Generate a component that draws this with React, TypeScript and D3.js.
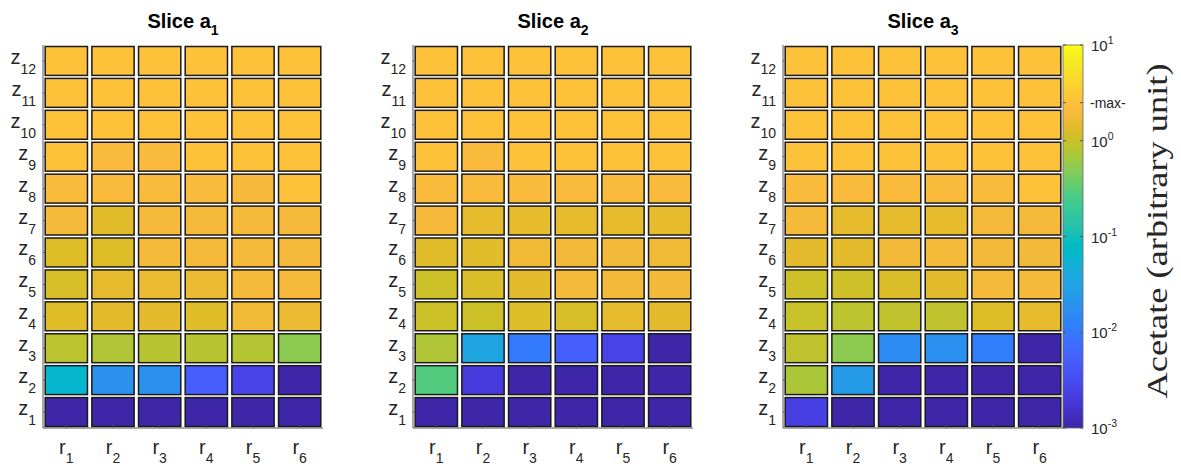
import React from "react";
import * as d3 from "d3";

// ---------- data ----------
const columns = ["1", "2", "3", "4", "5", "6"]; // r subscripts
const rowsLabels = ["1", "2", "3", "4", "5", "6", "7", "8", "9", "10", "11", "12"]; // z subscripts (bottom -> top)
const sliceTitles = ["1", "2", "3"];

// values per slice, rows z1..z12, columns r1..r6 (arbitrary units)
const slice1 = [
  [0.001, 0.001, 0.001, 0.001, 0.001, 0.001],
  [0.063, 0.019, 0.019, 0.005, 0.0025, 0.001],
  [0.87, 0.76, 0.83, 0.83, 0.79, 0.52],
  [1.32, 1.45, 1.45, 1.32, 1.78, 1.66],
  [1.2, 1.51, 1.58, 1.66, 1.9, 1.9],
  [1.32, 1.32, 1.9, 1.9, 1.9, 1.9],
  [1.9, 1.41, 1.9, 1.9, 1.9, 1.9],
  [2.1, 2.1, 2.1, 2.1, 2.0, 2.5],
  [2.5, 2.1, 2.1, 2.5, 2.5, 2.5],
  [2.5, 2.5, 2.5, 2.5, 2.5, 2.5],
  [2.5, 2.5, 2.5, 2.5, 2.5, 2.5],
  [2.5, 2.5, 2.5, 2.5, 2.5, 2.5],
];
const slice2 = [
  [0.001, 0.001, 0.001, 0.001, 0.001, 0.001],
  [0.28, 0.002, 0.001, 0.001, 0.001, 0.001],
  [0.76, 0.035, 0.01, 0.005, 0.0025, 0.001],
  [1.05, 1.05, 1.32, 1.2, 1.51, 1.45],
  [1.05, 1.26, 1.45, 1.86, 1.8, 1.8],
  [1.38, 1.38, 1.74, 1.8, 1.8, 1.74],
  [2.0, 1.51, 1.51, 1.51, 1.51, 1.51],
  [2.1, 2.1, 2.1, 2.1, 2.1, 2.1],
  [2.5, 2.1, 2.5, 2.5, 2.5, 2.5],
  [2.5, 2.5, 2.5, 2.5, 2.5, 2.5],
  [2.5, 2.5, 2.5, 2.5, 2.5, 2.5],
  [2.5, 2.5, 2.5, 2.5, 2.5, 2.5],
];
const slice3 = [
  [0.0024, 0.001, 0.001, 0.001, 0.001, 0.001],
  [0.72, 0.025, 0.001, 0.001, 0.001, 0.001],
  [0.91, 0.52, 0.016, 0.018, 0.011, 0.001],
  [0.98, 0.87, 0.91, 0.91, 1.32, 1.51],
  [1.07, 1.07, 1.26, 1.45, 1.9, 1.9],
  [1.45, 1.45, 1.8, 1.9, 1.8, 1.8],
  [1.9, 1.51, 1.51, 1.51, 1.9, 1.9],
  [2.1, 2.1, 2.1, 2.1, 2.1, 2.5],
  [2.5, 2.5, 2.5, 2.5, 2.5, 2.5],
  [2.5, 2.5, 2.5, 2.5, 2.5, 2.5],
  [2.5, 2.5, 2.5, 2.5, 2.5, 2.5],
  [2.5, 2.5, 2.5, 2.5, 2.5, 2.5],
];
const slices = [slice1, slice2, slice3];

const colorDomain = [0.001, 10];
const colorTicks = [0.001, 0.01, 0.1, 1, 10];
const tickExponents = ["-3", "-2", "-1", "0", "1"];
const maxValue = 2.5;
const colorbarLabel = "Acetate (arbitrary unit)";

// ---------- parula colormap (MATLAB) ----------
const PARULA: number[][] = [
  [0.2422, 0.1504, 0.6603], [0.2504, 0.165, 0.7076], [0.2578, 0.1818, 0.7511], [0.2647, 0.1978, 0.7952],
  [0.2706, 0.2147, 0.8364], [0.2751, 0.2342, 0.871], [0.2783, 0.2559, 0.8991], [0.2803, 0.2782, 0.9221],
  [0.2813, 0.3006, 0.9414], [0.281, 0.3228, 0.9579], [0.2795, 0.3447, 0.9717], [0.276, 0.3667, 0.9829],
  [0.2699, 0.3892, 0.9906], [0.2602, 0.4123, 0.9952], [0.244, 0.4358, 0.9988], [0.2206, 0.4603, 0.9973],
  [0.1963, 0.4847, 0.9892], [0.1834, 0.5074, 0.9798], [0.1786, 0.5289, 0.9682], [0.1764, 0.5499, 0.952],
  [0.1687, 0.5703, 0.9359], [0.154, 0.5902, 0.9218], [0.146, 0.6091, 0.9079], [0.138, 0.6276, 0.8973],
  [0.1248, 0.6459, 0.8883], [0.1113, 0.6635, 0.8763], [0.0952, 0.6798, 0.8598], [0.0689, 0.6948, 0.8394],
  [0.0297, 0.7082, 0.8163], [0.0036, 0.7203, 0.7917], [0.0067, 0.7312, 0.766], [0.0433, 0.7411, 0.7394],
  [0.0964, 0.75, 0.712], [0.1408, 0.7584, 0.6842], [0.1717, 0.767, 0.6554], [0.1938, 0.7758, 0.6251],
  [0.2161, 0.7843, 0.5923], [0.247, 0.7918, 0.5567], [0.2906, 0.7973, 0.5188], [0.3406, 0.8008, 0.4789],
  [0.3909, 0.8029, 0.4354], [0.4456, 0.8024, 0.3909], [0.5044, 0.7993, 0.348], [0.5616, 0.7942, 0.3045],
  [0.6174, 0.7876, 0.2612], [0.672, 0.7793, 0.2227], [0.7242, 0.7698, 0.191], [0.7738, 0.7598, 0.1646],
  [0.8203, 0.7498, 0.1535], [0.8634, 0.7406, 0.1596], [0.9035, 0.733, 0.1774], [0.9393, 0.7288, 0.21],
  [0.9728, 0.7298, 0.2394], [0.9956, 0.7434, 0.2371], [0.997, 0.7659, 0.2199], [0.9952, 0.7893, 0.2028],
  [0.9892, 0.8136, 0.1885], [0.9786, 0.8386, 0.1766], [0.9676, 0.8639, 0.1643], [0.961, 0.889, 0.1537],
  [0.9597, 0.9135, 0.1423], [0.9628, 0.9373, 0.1265], [0.9691, 0.9606, 0.1064], [0.9769, 0.9839, 0.0805],
];
function parula(t: number): string {
  const tt = Math.max(0, Math.min(1, t));
  const p = tt * (PARULA.length - 1);
  const i = Math.min(PARULA.length - 2, Math.floor(p));
  const f = p - i;
  const a = PARULA[i], b = PARULA[i + 1];
  const c = a.map((v, k) => Math.round((v + (b[k] - v) * f) * 255));
  return d3.rgb(c[0], c[1], c[2]).formatHex();
}

// ---------- layout ----------
const W = 1181, H = 467;
const panelLefts = [43, 413, 783];
const panelW = 280;
const top = 45, bottom = 428;
const cbX = 1063, cbW = 20;
const sans = "'Liberation Sans', Arial, Helvetica, sans-serif";
const serif = "'Liberation Serif', 'DejaVu Serif', 'Times New Roman', serif";
const textColor = "#262626";

export default function App() {
  const tScale = d3.scaleLog().domain(colorDomain).range([0, 1]).clamp(true);
  const yBand = d3.scaleBand<string>().domain(rowsLabels.slice().reverse()).range([top, bottom]);
  const cbY = d3.scaleLog().domain(colorDomain).range([bottom, top]);
  const stops = d3.range(0, 1.0001, 1 / 63);

  return (
    <svg width={W} height={H} style={{ position: "absolute", left: 0, top: 0, background: "#fff" }}
      fontFamily={sans}>
      <defs>
        <linearGradient id="parulaGrad" x1="0" y1="1" x2="0" y2="0">
          {stops.map((s, i) => (
            <stop key={i} offset={s} stopColor={parula(s)} />
          ))}
        </linearGradient>
      </defs>
      {slices.map((data, si) => {
        const x0 = panelLefts[si];
        const xBand = d3.scaleBand<string>().domain(columns).range([x0, x0 + panelW]);
        const bw = xBand.bandwidth();
        const bh = yBand.bandwidth();
        return (
          <g key={si}>
            <text x={x0 + panelW / 2} y={28} textAnchor="middle" fontWeight="bold" fontSize={20} fill="#000">
              Slice a<tspan dy={7} fontSize={14}>{sliceTitles[si]}</tspan>
            </text>
            {data.map((row, ri) =>
              row.map((v, ci) => (
                <rect key={`${ri}-${ci}`}
                  x={xBand(columns[ci])! + 2.2} y={yBand(rowsLabels[ri])! + 1.5}
                  width={bw - 4.4} height={bh - 3}
                  fill={parula(tScale(v))} stroke="#1a1a1a" strokeWidth={1.5} />
              ))
            )}
            {/* axes */}
            <line x1={x0} x2={x0} y1={top} y2={bottom} stroke="#555" strokeWidth={1} />
            <line x1={x0} x2={x0 + panelW} y1={bottom} y2={bottom} stroke="#555" strokeWidth={1} />
            {rowsLabels.map((r) => {
              const cy = yBand(r)! + bh / 2;
              return (
                <g key={r}>
                  <line x1={x0} x2={x0 + 2.5} y1={cy} y2={cy} stroke="#555" />
                  <text x={x0 - 7} y={cy + 3} textAnchor="end" fontSize={20} fill={textColor}>
                    z<tspan dy={10} fontSize={14}>{r}</tspan>
                  </text>
                </g>
              );
            })}
            {columns.map((c) => {
              const cx = xBand(c)! + bw / 2;
              return (
                <g key={c}>
                  <line x1={cx} x2={cx} y1={bottom} y2={bottom - 2.5} stroke="#555" />
                  <text x={cx} y={454} textAnchor="middle" fontSize={20} fill={textColor}>
                    r<tspan dy={9} fontSize={14}>{c}</tspan>
                  </text>
                </g>
              );
            })}
          </g>
        );
      })}
      {/* colorbar */}
      <rect x={cbX} y={top} width={cbW} height={bottom - top} fill="url(#parulaGrad)" stroke="#666" strokeWidth={0.8} />
      {colorTicks.map((t, i) => (
        <g key={i}>
          <line x1={cbX} x2={cbX + 3} y1={cbY(t)} y2={cbY(t)} stroke="#555" />
          <line x1={cbX + cbW - 3} x2={cbX + cbW} y1={cbY(t)} y2={cbY(t)} stroke="#555" />
          <text x={cbX + 28} y={cbY(t) + 6} fontSize={15} fill={textColor}>
            10<tspan dy={-7} fontSize={10.5}>{tickExponents[i]}</tspan>
          </text>
        </g>
      ))}
      <line x1={cbX} x2={cbX + 3} y1={cbY(maxValue)} y2={cbY(maxValue)} stroke="#555" />
      <line x1={cbX + cbW - 3} x2={cbX + cbW} y1={cbY(maxValue)} y2={cbY(maxValue)} stroke="#555" />
      <text x={cbX + 27} y={cbY(maxValue) + 5} fontSize={14} fill={textColor}>-max-</text>
      <text transform={`translate(1167, 231) rotate(-90)`} textAnchor="middle"
        fontFamily={serif} fontSize={30} fill={textColor}
        textLength={335} lengthAdjust="spacingAndGlyphs">
        {colorbarLabel}
      </text>
    </svg>
  );
}
